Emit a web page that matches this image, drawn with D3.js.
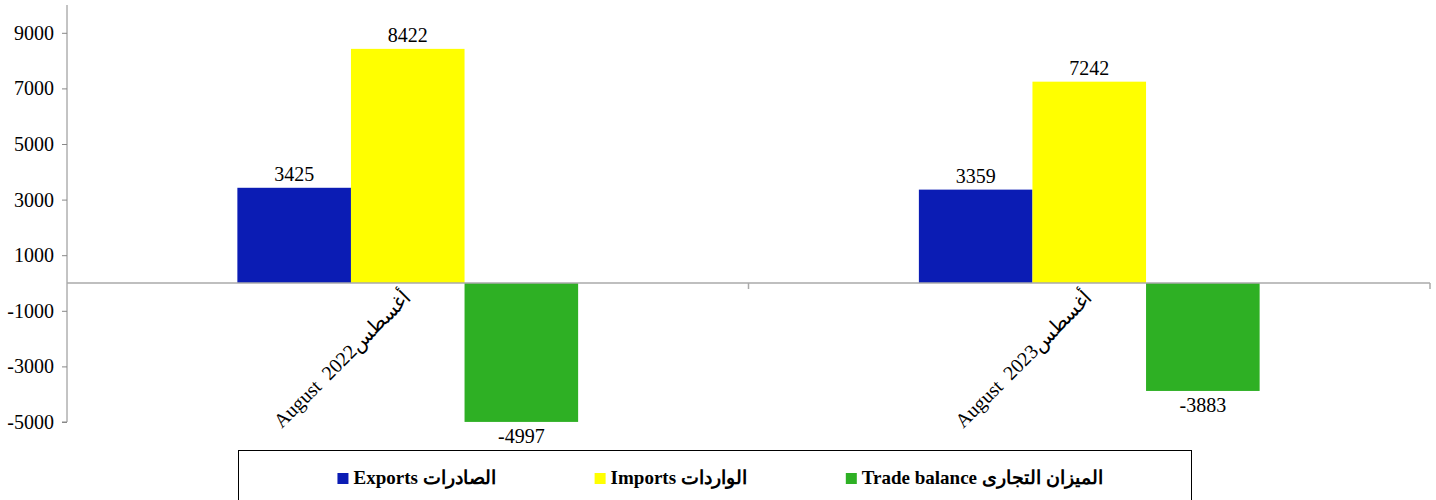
<!DOCTYPE html>
<html>
<head>
<meta charset="utf-8">
<script src="https://cdn.jsdelivr.net/npm/d3@7"></script>
<style>
  body { margin: 0; background: #fff; }
  svg { display: block; }
  svg text { font-family: "Liberation Serif", "DejaVu Serif", "Times New Roman", serif; white-space: pre; }
</style>
</head>
<body>
<svg id="chart" width="1436" height="500"></svg>
<script>
// data
var categories = ["August  2022أغسطس", "August  2023أغسطس"];
var seriesNames = ["Exports الصادرات", "Imports الواردات", "Trade balance الميزان التجارى"];
var exportsValues = [3425, 3359];
var importsValues = [8422, 7242];
var balanceValues = [-4997, -3883];
var yTicks = [-5000, -3000, -1000, 1000, 3000, 5000, 7000, 9000];
var colors = ["#0b1cb4", "#ffff00", "#2eb024"];

var seriesValues = [exportsValues, importsValues, balanceValues];

var svg = d3.select("#chart");
var mLeft = 67, mRight = 1430, mTop = 5, mBottom = 422;

var y = d3.scaleLinear().domain([-5000, 10000]).range([mBottom, mTop]);
var x0 = d3.scaleBand().domain(categories).range([mLeft, mRight]).paddingInner(0).paddingOuter(0);
var x1 = d3.scaleBand().domain(seriesNames).range([0, x0.bandwidth()]).paddingOuter(1.5).paddingInner(0);

//y axis
var yAxis = svg.append("g")
	.attr("transform", "translate(" + mLeft + ",0)")
	.call(d3.axisLeft(y).tickValues(yTicks).tickSize(5).tickPadding(8)
		.tickFormat(function(d){ return String(d) }));
yAxis.attr("font-family", null).attr("font-size", null);
yAxis.select(".domain").attr("stroke", "#888").attr("d", "M0," + mTop + "V" + mBottom + "H-5");
yAxis.selectAll(".tick line").attr("stroke", "#888");
yAxis.selectAll(".tick text").attr("font-size", 20).attr("fill", "#000");

//bars
var groups = svg.selectAll("g.cat")
	.data(categories)
  .enter().append("g")
	.attr("class", "cat")
	.attr("transform", function(d){ return "translate(" + x0(d) + ",0)" });

function rows(d, i){
	return seriesNames.map(function(s, j){ return {s: s, j: j, v: seriesValues[j][i]} })
}

groups.selectAll("rect")
	.data(rows)
  .enter().append("rect")
	.attr("x", function(d){ return x1(d.s) })
	.attr("width", x1.bandwidth())
	.attr("y", function(d){ return y(Math.max(0, d.v)) })
	.attr("height", function(d){ return Math.abs(y(d.v) - y(0)) })
	.attr("fill", function(d){ return colors[d.j] });

groups.selectAll("text.val")
	.data(rows)
  .enter().append("text")
	.attr("class", "val")
	.attr("x", function(d){ return x1(d.s) + x1.bandwidth() / 2 })
	.attr("y", function(d){ return d.v >= 0 ? y(d.v) - 7 : y(d.v) + 21 })
	.attr("text-anchor", "middle")
	.attr("font-size", 20)
	.text(function(d){ return d.v });

//x axis at zero
var xAxis = svg.append("g")
	.attr("transform", "translate(0," + y(0) + ")");
xAxis.append("line")
	.attr("x1", mLeft).attr("x2", mRight)
	.attr("stroke", "#aaa").attr("stroke-width", 1.5);
xAxis.selectAll("line.tick")
	.data(categories)
  .enter().append("line")
	.attr("class", "tick")
	.attr("x1", function(d){ return x0(d) + x0.bandwidth() })
	.attr("x2", function(d){ return x0(d) + x0.bandwidth() })
	.attr("y1", 0).attr("y2", 6)
	.attr("stroke", "#aaa").attr("stroke-width", 1.5);
xAxis.selectAll("text")
	.data(categories)
  .enter().append("text")
	.attr("direction", "ltr")
	.attr("text-anchor", "end")
	.attr("font-size", 20)
	.attr("transform", function(d){
		return "translate(" + (x0(d) + x0.bandwidth() / 2 + 4) + ",16) rotate(-45)"
	})
	.text(function(d){ return d });

//legend
var legend = svg.append("g");
legend.append("rect")
	.attr("x", 238.5).attr("y", 450.5)
	.attr("width", 953).attr("height", 60)
	.attr("fill", "none").attr("stroke", "#000");

var items = legend.selectAll("g.item")
	.data(seriesNames)
  .enter().append("g")
	.attr("class", "item");
items.append("rect")
	.attr("width", 11).attr("height", 11)
	.attr("y", 473)
	.attr("fill", function(d, i){ return colors[i] });
items.append("text")
	.attr("x", 16).attr("y", 484)
	.attr("direction", "ltr")
	.attr("font-size", 19)
	.attr("font-weight", "bold")
	.text(function(d){ return d });

var widths = [];
items.each(function(){ widths.push(16 + this.querySelector("text").getComputedTextLength()) });
var gap = 99;
var total = d3.sum(widths) + gap * (widths.length - 1);
var start = 720 - total / 2;
items.attr("transform", function(d, i){
	return "translate(" + (start + d3.sum(widths.slice(0, i)) + gap * i) + ",0)"
});
</script>
</body>
</html>
